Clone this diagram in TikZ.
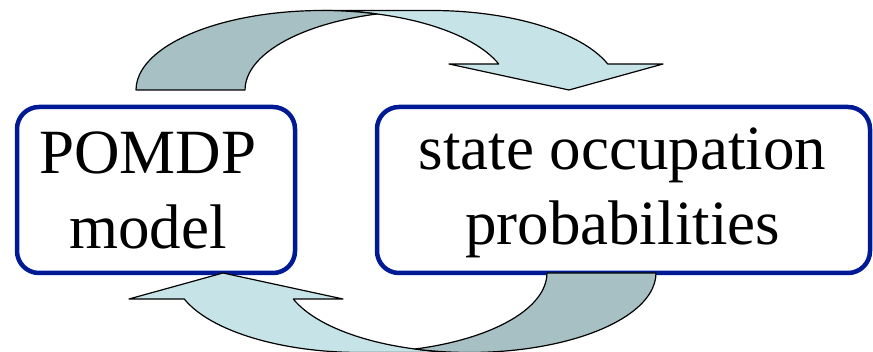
\documentclass[tikz,border=0pt]{standalone}
\usepackage{fontspec}
\setmainfont{Liberation Serif}
\definecolor{boxline}{HTML}{001A96}
\definecolor{backface}{HTML}{A7C0C4}
\definecolor{frontface}{HTML}{C6E4E8}

\begin{document}
\begin{tikzpicture}[x=1pt,y=1pt]
        \tikzset{box/.style = {draw=boxline,line width=4.5pt,rounded corners=22pt,fill=white}}
        \tikzset{boxtext/.style = {align=center,inner sep=0pt,font=\fontsize{63}{75}\selectfont}}
        \tikzset{band/.style = {draw=black,line width=1.2pt,line join=round}}
        \useasboundingbox (0,0) rectangle (873,-352);
        \node[box,minimum width=278pt,minimum height=166pt] (model) at (156,-190) {};
        \node[box,minimum width=493pt,minimum height=166pt] (probs) at (623.5,-190) {};
        \node[boxtext] (modeltext) at ([xshift=-8pt]model.center) {POMDP\\model};
        \node[boxtext] (probstext) at ([xshift=-1pt,yshift=-3pt]probs.center) {state occupation\\probabilities};
        \foreach \r in {0,180} {
          \begin{scope}[rotate around={\r:(396,-181.5)}]
            \filldraw[band,fill=frontface] (322.5,-10.5) -- (431.5,-10.5)
              arc[start angle=90, end angle=19.1, x radius=186.5, y radius=79.5]
              -- (663,-64) -- (569,-90) -- (449,-64) -- (498.7,-64)
              arc[start angle=19.1, end angle=90, x radius=186.5, y radius=79.5] -- cycle;
            \filldraw[band,fill=backface] (136,-90)
              arc[start angle=180, end angle=73, x radius=186.5, y radius=79.5]
              arc[start angle=107, end angle=180, x radius=186.5, y radius=79.5] -- cycle;
          \end{scope}
        }
\end{tikzpicture}
\end{document}
